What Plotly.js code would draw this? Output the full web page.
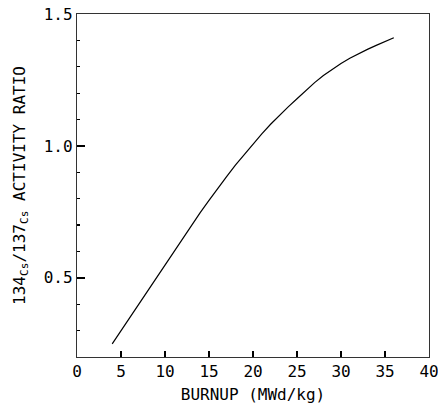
<!DOCTYPE html>
<html>
<head>
<meta charset="utf-8">
<script src="https://cdn.plot.ly/plotly-3.0.1.min.js"></script>
<style>html,body{margin:0;padding:0;background:#fff;}#chart{width:438px;height:414px;}</style>
</head>
<body>
<div id="chart"></div>
<script>
const burnup = [4,5,6,7,8,9,10,11,12,13,14,15,16,17,18,19,20,21,22,23,24,25,26,27,28,29,30,31,32,33,34,35,36];
const ratio = [0.25,0.30,0.349,0.398,0.449,0.50,0.55,0.60,0.65,0.699,0.747,0.794,0.84,0.884,0.927,0.968,1.008,1.046,1.082,1.116,1.148,1.179,1.21,1.24,1.267,1.29,1.312,1.332,1.35,1.366,1.381,1.396,1.41];
const xTicks = [0,5,10,15,20,25,30,35,40];
const yTicks = [0.5,1.0,1.5];
const xTitle = 'BURNUP (MWd/kg)';
const yTitle = '134<sub>Cs</sub>/137<sub>Cs</sub> ACTIVITY RATIO';

const font = {family: 'DejaVu Sans Mono', size: 16, color: '#000'};
const trace = {x: burnup, y: ratio, mode: 'lines', line: {color: '#000', width: 1.2}, hoverinfo: 'skip'};
const layout = {
  width: 438, height: 414,
  margin: {l: 77, r: 9, t: 14, b: 57},
  paper_bgcolor: '#fff', plot_bgcolor: '#fff',
  showlegend: false,
  font: font,
  xaxis: {
    range: [0, 40], tickvals: xTicks, ticktext: xTicks.map(String),
    ticks: 'inside', ticklen: 6, tickwidth: 1.5, tickcolor: '#000',
    ticklabeloverflow: 'allow',
    showline: true, mirror: true, linecolor: '#333', linewidth: 1.2,
    showgrid: false, zeroline: false, automargin: false,
    tickfont: font,
    title: {text: xTitle, font: font, standoff: 8}
  },
  yaxis: {
    range: [0.2, 1.5], tickvals: yTicks, tickformat: '.1f',
    ticks: 'inside', ticklen: 8, tickwidth: 1.5, tickcolor: '#000',
    ticklabeloverflow: 'allow',
    minor: {dtick: 0.1, tick0: 0, ticks: 'inside', ticklen: 3, tickwidth: 1.2, tickcolor: '#000'},
    showline: true, mirror: true, linecolor: '#333', linewidth: 1.2,
    showgrid: false, zeroline: false, automargin: false,
    tickfont: font,
    title: {text: yTitle, font: font, standoff: 14}
  }
};
Plotly.newPlot('chart', [trace], layout, {staticPlot: true, displayModeBar: false});
</script>
</body>
</html>
